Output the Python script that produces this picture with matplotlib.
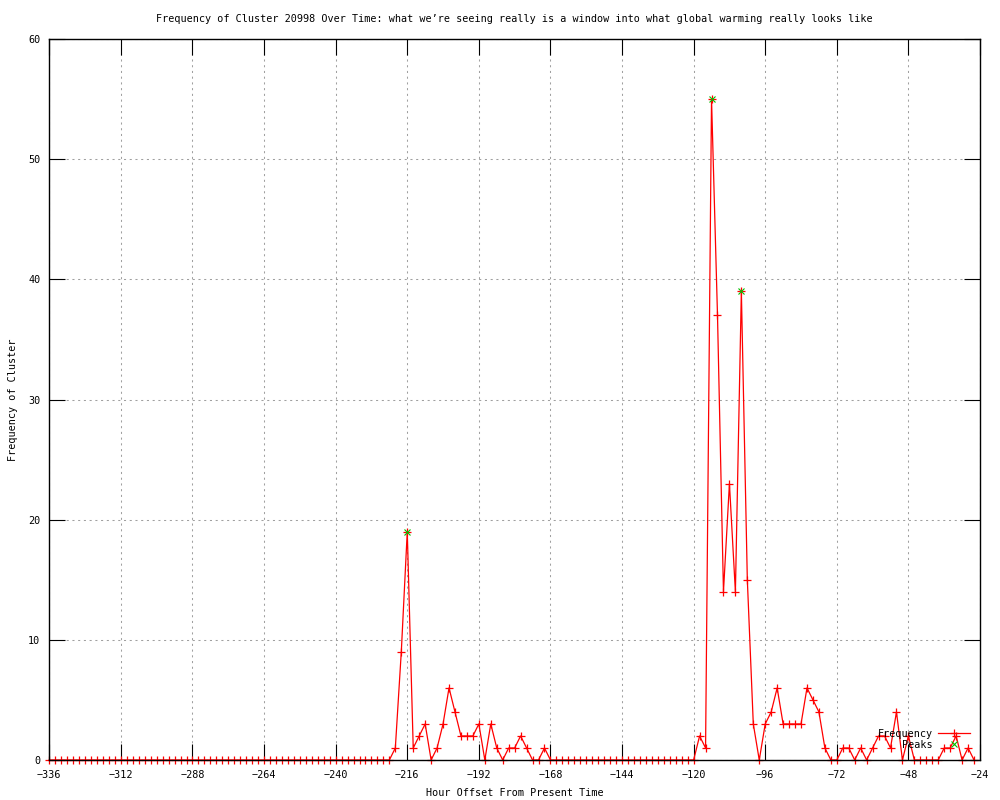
#!/usr/bin/env python3

import matplotlib
matplotlib.use("Agg")
import matplotlib.pyplot as plt

# ==========================
# DATA
# ==========================
hours = list(range(-336, -24, 2))   # every 2 hours, -336 .. -26

frequency = (
    [0] * 58                                       # -336 .. -222
    + [1, 9, 19, 1, 2, 3, 0, 1, 3, 6,              # -220 .. -202
       4, 2, 2, 2, 3, 0, 3, 1, 0, 1,               # -200 .. -182
       1, 2, 1, 0, 0, 1, 0]                        # -180 .. -168
    + [0] * 24                                     # -166 .. -120
    + [2, 1, 55, 37, 14, 23, 14, 39, 15, 3,        # -118 .. -100
       0, 3, 4, 6, 3, 3, 3, 3, 6, 5,               # -98 .. -80
       4, 1, 0, 0, 1, 1, 0, 1, 0, 1,               # -78 .. -60
       2, 2, 1, 4, 0, 2, 0, 0, 0, 0,               # -58 .. -40
       0, 1, 1, 2, 0, 1, 0]                        # -38 .. -26
)

peak_hours = [-216, -114, -104]
peak_values = [19, 55, 39]

x_ticks = list(range(-336, -23, 24))
y_ticks = list(range(0, 61, 10))

TITLE = ("Frequency of Cluster 20998 Over Time: what we\u2019re seeing really "
         "is a window into what global warming really looks like")
X_LABEL = "Hour Offset From Present Time"
Y_LABEL = "Frequency of Cluster"

# ==========================
# STYLE OPTIONS
# ==========================
FONT = "DejaVu Sans Mono"
FONT_SIZE = 7.3
LINE_COLOR = "#ff0000"
PEAK_COLOR = "#00c000"
GRID_COLOR = "#a0a0a0"
TICK_LEN = 11.5

plt.rcParams["font.family"] = FONT
plt.rcParams["font.size"] = FONT_SIZE

# ==========================
# CREATE FIGURE
# ==========================
fig = plt.figure(figsize=(10, 8), dpi=100)
ax = fig.add_axes([0.0493, 0.05, 0.9307, 0.90125])

ax.plot(
    hours, frequency,
    color=LINE_COLOR, linewidth=0.9,
    marker="+", markersize=6, markeredgewidth=0.9,
    clip_on=False, zorder=2, label="Frequency"
)
ax.plot(
    peak_hours, peak_values,
    linestyle="none", color=PEAK_COLOR,
    marker="x", markersize=5, markeredgewidth=0.8,
    clip_on=False, zorder=3, label="Peaks"
)

# ==========================
# AXES
# ==========================
ax.set_xlim(-336, -24)
ax.set_ylim(0, 60)
ax.set_xticks(x_ticks)
ax.set_yticks(y_ticks)
ax.tick_params(
    axis="both", direction="in", length=TICK_LEN, width=0.8,
    top=True, right=True, labelsize=FONT_SIZE
)
ax.tick_params(axis="x", pad=7.5)
ax.tick_params(axis="y", pad=6.5)

ax.grid(True, color=GRID_COLOR, linewidth=0.75, linestyle=(0, (2, 3.5)))
ax.set_axisbelow(True)

for spine in ax.spines.values():
    spine.set_linewidth(1.0)
    spine.set_zorder(4)

# ==========================
# TEXT
# ==========================
fig.text(0.5145, 1 - 18.5 / 800, TITLE, ha="center", va="center", fontsize=FONT_SIZE)
fig.text(0.5145, 1 - 793 / 800, X_LABEL, ha="center", va="center", fontsize=FONT_SIZE)
fig.text(13 / 1000, 1 - 400 / 800, Y_LABEL, ha="center", va="center",
         rotation=90, fontsize=FONT_SIZE)

# ==========================
# LEGEND
# ==========================
ax.legend(
    loc="lower right",
    bbox_to_anchor=(0.970, 1 - 750 / 800),
    bbox_transform=fig.transFigure,
    frameon=False,
    markerfirst=False,
    handlelength=3.2,
    handletextpad=0.45,
    labelspacing=0.1,
    borderpad=0.0,
    borderaxespad=0.0,
    fontsize=FONT_SIZE,
)

# ==========================
# SAVE
# ==========================
fig.savefig("out.png", dpi=100)
plt.close(fig)
